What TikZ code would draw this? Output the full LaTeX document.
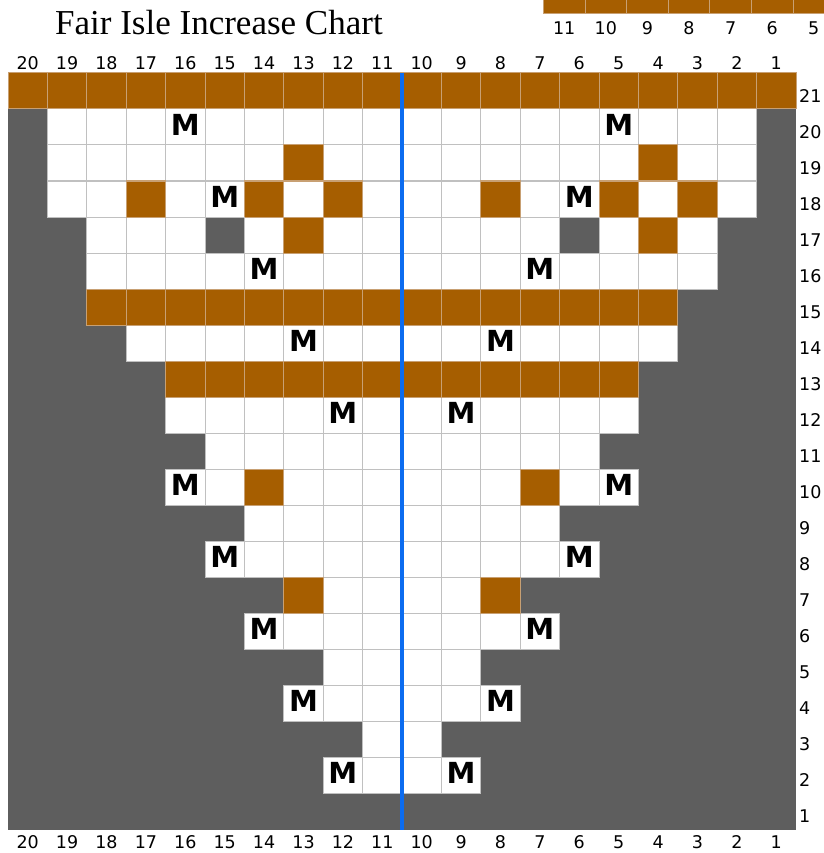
\documentclass[tikz,border=0pt]{standalone}
\usepackage{fontspec}
\setmainfont{Liberation Serif}
\newfontfamily\chartfont{DejaVu Sans}
\usetikzlibrary{positioning}

\definecolor{chartbrown}{RGB}{166,94,0}
\definecolor{offgray}{RGB}{94,94,94}
\definecolor{gridgray}{RGB}{192,192,192}
\definecolor{seamtan}{RGB}{200,160,115}
\definecolor{centreblue}{RGB}{12,108,240}

\newcommand{\cellw}{39.4}
\newcommand{\cellh}{36}
\newcommand{\gridx}{8}
\newcommand{\gridy}{73}
\newcommand{\chartcell}[3]{\path[#1] ({\gridx+(20-#2)*\cellw},{\gridy+(21-#3)*\cellh}) rectangle ++(\cellw,\cellh);}

\begin{document}
\begin{tikzpicture}[
  x=1pt, y=-1pt,
  knit/.style={fill=white, draw=gridgray, line width=1pt},
  motif/.style={fill=chartbrown, draw=seamtan, line width=1pt},
  nostitch/.style={fill=offgray, draw=gridgray, line width=1pt},
  num/.style={font=\chartfont\fontsize{17.5}{20}\selectfont, inner sep=0pt},
  make/.style={font=\chartfont\bfseries\fontsize{29}{30}\selectfont, inner sep=0pt},
]
  \useasboundingbox[fill=white] (0,0) rectangle (823,853);

  \node[font=\fontsize{35}{40}\selectfont, anchor=base west, inner sep=0pt]
        (title) at (55,35) {Fair Isle Increase Chart};

  % edge of the next chart, cut by the page
  \foreach \c [count=\k from 0] in {11,10,...,5} {
    \path[motif] ({543.4+\k*41.6},-28) rectangle ++(41.6,42);
    \node[num] (next-\c) at ({564.2+\k*41.6},28) {\c};
  }

  \path[fill=offgray] (\gridx,\gridy) rectangle (796,830);

  \foreach \r/\a/\b in {20/19/2,19/19/2,18/19/2,17/18/3,16/18/3,14/17/4,
                        12/16/5,11/15/6,10/16/5,9/14/7,8/15/6,7/13/8,
                        6/14/7,5/12/9,4/13/8,3/11/10,2/12/9}
    \foreach \c in {\b,...,\a} {\chartcell{knit}{\c}{\r}}

  \foreach \r/\a/\b in {21/20/1,15/18/4,13/16/5}
    \foreach \c in {\b,...,\a} {\chartcell{motif}{\c}{\r}}

  \foreach \r/\c in {19/13,19/4,18/17,18/14,18/12,18/8,18/5,18/3,
                     17/13,17/4,10/14,10/7,7/13,7/8}
    {\chartcell{motif}{\c}{\r}}

  \foreach \r/\c in {17/15,17/6}
    {\chartcell{nostitch}{\c}{\r}}

  \foreach \r/\c in {20/16,20/5,18/15,18/6,16/14,16/7,14/13,14/8,12/12,12/9,
                     10/16,10/5,8/15,8/6,6/14,6/7,4/13,4/8,2/12,2/9}
    \node[make, yshift=2pt] (m-\r-\c)
          at ({\gridx+(20.5-\c)*\cellw},{\gridy+(21.5-\r)*\cellh}) {M};

  \coordinate (centre top) at (402,73);
  \coordinate (centre bottom) at (402,830);
  \draw[centreblue, line width=4.5pt] (centre top) -- (centre bottom);

  \foreach \c in {1,...,20} {
    \node[num] (top-\c) at ({\gridx+(20.5-\c)*\cellw},63) {\c};
    \node[num] (bottom-\c) at ({\gridx+(20.5-\c)*\cellw},842) {\c};
  }
  \foreach \r in {1,...,21}
    \node[num, anchor=west] (row-\r) at (799,{\gridy+(21.5-\r)*\cellh+5}) {\r};
\end{tikzpicture}
\end{document}
